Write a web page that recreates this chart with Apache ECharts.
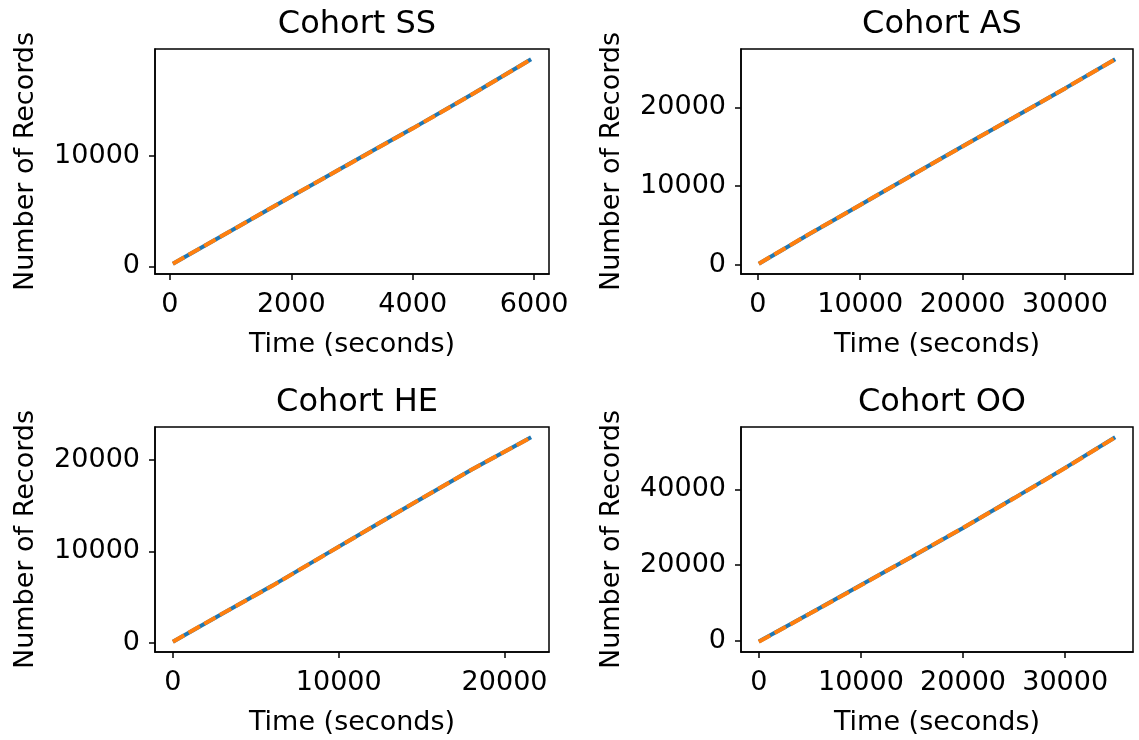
<!DOCTYPE html>
<html>
<head>
<meta charset="utf-8">
<script src="https://cdn.jsdelivr.net/npm/echarts@6/dist/echarts.min.js"></script>
<style>
  html, body { margin: 0; background: #fff; }
  #chart { width: 1139px; height: 740px; }
</style>
</head>
<body>
<div id="chart"></div>
<script>
// values
const cohortNames = ["Cohort SS", "Cohort AS", "Cohort HE", "Cohort OO"];

const ssTime = [50, 1000, 2000, 3000, 4000, 5000, 5950];
const ssRecords = [230, 3180, 6300, 9390, 12450, 15600, 18690];
const ssFitRecords = [240, 3190, 6310, 9380, 12440, 15590, 18680];

const asTime = [100, 5000, 10000, 15000, 20000, 25000, 30000, 34900];
const asRecords = [150, 3900, 7600, 11350, 15050, 18700, 22400, 26100];
const asFitRecords = [160, 3910, 7610, 11340, 15040, 18710, 22390, 26090];

const heTime = [0, 3000, 6000, 9000, 12000, 15000, 18000, 21600];
const heRecords = [100, 3200, 6250, 9450, 12650, 15800, 18950, 22500];
const heFitRecords = [110, 3210, 6240, 9440, 12640, 15810, 18940, 22490];

const ooTime = [0, 5000, 10000, 15000, 20000, 25000, 30000, 34900];
const ooRecords = [-200, 7200, 14700, 22200, 29800, 37700, 45700, 53800];
const ooFitRecords = [-300, 7150, 14650, 22250, 29850, 37650, 45650, 53750];

const ssXTicks = [0, 2000, 4000, 6000];
const asXTicks = [0, 10000, 20000, 30000];
const heXTicks = [0, 10000, 20000];
const ooXTicks = [0, 10000, 20000, 30000];
const ssYTicks = [0, 10000];
const asYTicks = [0, 10000, 20000];
const heYTicks = [0, 10000, 20000];
const ooYTicks = [0, 20000, 40000];

const panels = [
  { t: ssTime, r: ssRecords, fr: ssFitRecords, xt: ssXTicks, yt: ssYTicks, left: 155, top: 49 },
  { t: asTime, r: asRecords, fr: asFitRecords, xt: asXTicks, yt: asYTicks, left: 741, top: 49 },
  { t: heTime, r: heRecords, fr: heFitRecords, xt: heXTicks, yt: heYTicks, left: 155, top: 427 },
  { t: ooTime, r: ooRecords, fr: ooFitRecords, xt: ooXTicks, yt: ooYTicks, left: 741, top: 427 },
];

const FONT = "DejaVu Sans";
const BLUE = "#1f77b4";
const ORANGE = "#ff7f0e";

// matplotlib-style 5% margins around the data
function padRange(a, b) {
  const all = a.concat(b);
  const lo = Math.min(...all), hi = Math.max(...all);
  const d = hi - lo;
  return [lo - 0.05 * d, hi + 0.05 * d];
}

const zip = (xs, ys) => xs.map((x, i) => [x, ys[i]]);

const grid = [], xAxis = [], yAxis = [], series = [], title = [];

panels.forEach((p, i) => {
  const w = p.left < 500 ? 394 : 392;
  grid.push({
    left: p.left, top: p.top, width: w, height: 225,
    show: true, borderColor: "#000", borderWidth: 1.5, backgroundColor: "transparent",
  });
  title.push({
    text: cohortNames[i],
    left: p.left + w / 2, top: p.top - 45, textAlign: "center",
    textStyle: { fontFamily: FONT, fontSize: 32, fontWeight: "normal", color: "#000" },
  });

  const [xmin, xmax] = padRange(p.t, p.t);
  const [ymin, ymax] = padRange(p.r, p.fr);
  const common = {
    type: "value",
    gridIndex: i,
    splitLine: { show: false },
    axisLine: { show: true, onZero: false, lineStyle: { color: "#000", width: 1.5 } },
    nameLocation: "middle",
    nameTextStyle: { fontFamily: FONT, fontSize: 27, color: "#000" },
  };
  xAxis.push(Object.assign({}, common, {
    min: xmin, max: xmax,
    name: "Time (seconds)", nameGap: 57,
    axisTick: { show: true, length: 6, customValues: p.xt, lineStyle: { color: "#000", width: 1.5 } },
    axisLabel: { customValues: p.xt, margin: 17, fontFamily: FONT, fontSize: 27, color: "#000", formatter: (v) => String(v) },
  }));
  yAxis.push(Object.assign({}, common, {
    min: ymin, max: ymax,
    name: "Number of Records", nameGap: 116,
    axisTick: { show: true, length: 6, customValues: p.yt, lineStyle: { color: "#000", width: 1.5 } },
    axisLabel: { customValues: p.yt, margin: 15, fontFamily: FONT, fontSize: 27, color: "#000", formatter: (v) => String(v) },
  }));

  series.push({
    type: "line", xAxisIndex: i, yAxisIndex: i,
    data: zip(p.t, p.r), symbol: "none", silent: true,
    lineStyle: { color: BLUE, width: 4 }, z: 2,
  });
  series.push({
    type: "line", xAxisIndex: i, yAxisIndex: i,
    data: zip(p.t, p.fr), symbol: "none", silent: true,
    lineStyle: { color: ORANGE, width: 4, type: [13, 5] }, z: 3,
  });
});

const chart = echarts.init(document.getElementById("chart"), null, { renderer: "canvas" });
chart.setOption({ animation: false, backgroundColor: "#fff", title, grid, xAxis, yAxis, series });
</script>
</body>
</html>
